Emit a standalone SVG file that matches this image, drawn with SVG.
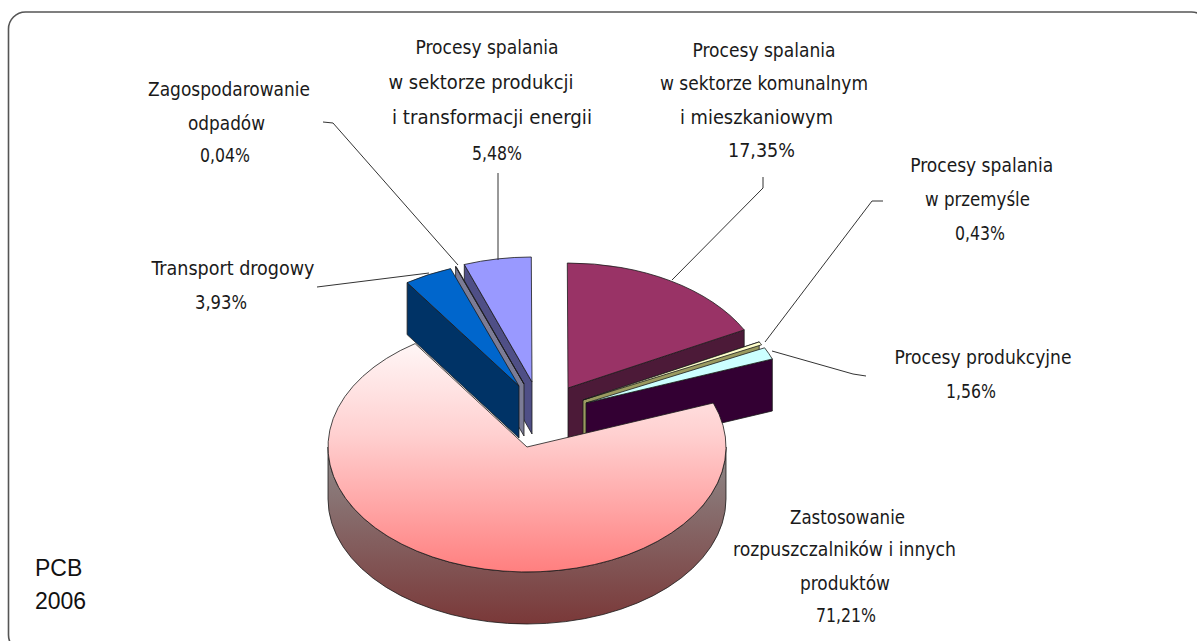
<svg xmlns="http://www.w3.org/2000/svg" width="1197" height="641" viewBox="0 0 1197 641">
<style>
.lbl{font-family:"DejaVu Sans Condensed","DejaVu Sans","Liberation Sans Narrow","Liberation Sans",sans-serif;font-stretch:condensed;font-size:19px;fill:#1a1a1a;text-anchor:middle}
.big{font-family:"Liberation Sans",Arial,sans-serif;font-size:23px;fill:#111}
.lead{fill:none;stroke:#333;stroke-width:1}
.edge{stroke:#1a1a1a;stroke-width:0.8;stroke-linejoin:round}
</style>
<defs>
<linearGradient id="pinkTop" gradientUnits="userSpaceOnUse" x1="0" y1="322" x2="0" y2="572">
<stop offset="0" stop-color="#ffffff"/>
<stop offset="0.45" stop-color="#ffd0d0"/>
<stop offset="1" stop-color="#ff7f7f"/>
</linearGradient>
<linearGradient id="pinkSide" gradientUnits="userSpaceOnUse" x1="0" y1="447" x2="0" y2="625">
<stop offset="0" stop-color="#8e8a8a"/>
<stop offset="1" stop-color="#7a3838"/>
</linearGradient>
</defs>
<rect x="0" y="0" width="1197" height="641" fill="#ffffff"/>
<rect id="frame" x="8.5" y="12" width="1200" height="640" rx="17" ry="17" fill="#ffffff" stroke="#555" stroke-width="1.6"/>

<g id="slice-komunalny">
<path class="edge" d="M568 388 L744.2 329.9 L744.2 381.9 L568 440 Z" fill="#4c1a38"/>
<path class="edge" d="M568 388 L567.3 263 A199 125 0 0 1 744.2 329.9 Z" fill="#993366"/>
</g>
<g id="slice-przemysl">
<path class="edge" d="M583 400 L759.2 341.9 L759.2 393.9 L583 452 Z" fill="#9a9a60"/>
<path class="edge" d="M583 400 L759.2 341.9 A199 125 0 0 1 761.6 344.8 Z" fill="#ffffcc"/>
</g>
<g id="slice-produkcyjne">
<path class="edge" d="M586 403 L772.3 359 L772.3 411 L586 455 Z" fill="#330033"/>
<path class="edge" d="M586 403 L764.6 347.8 A199 125 0 0 1 772.3 359 Z" fill="#ccffff"/>
</g>
<g id="slice-energia-wall">
<path class="edge" d="M532 382 L464.3 264.5 L464.3 316.5 L532 434 Z" fill="#4f4f86"/>
</g>
<g id="slice-odpady">
<path class="edge" d="M524 384 L455.6 266.6 L455.6 318.6 L524 436 Z" fill="#7c7c96"/>
<path class="edge" d="M524 384 L456.1 266.5 L455.6 266.6 Z" fill="#9999cc"/>
</g>
<g id="slice-transport">
<path class="edge" d="M519 386 L407.1 282.6 L407.1 334.6 L519 438 Z" fill="#003366"/>
<path class="edge" d="M519 386 L450.6 268.6 A199 125 0 0 0 407.1 282.6 Z" fill="#0066cc"/>
</g>
<g id="slice-energia">
<path class="edge" d="M532 382 L464.3 264.5 A199 125 0 0 1 531.3 257 Z" fill="#9999ff"/>
</g>
<g id="slice-rozpuszczalniki">
<path class="edge" d="M328 447 A199 125 0 0 0 726 447 L726 499 A199 125 0 0 1 328 499 Z" fill="url(#pinkSide)"/>
<path class="edge" d="M527 447 L713.3 403 A199 125 0 1 1 415.1 343.6 Z" fill="url(#pinkTop)"/>
</g>

<g id="connectors">
<polyline class="lead" points="323,122 333,123 458,265"/>
<polyline class="lead" points="317,287 429,273"/>
<polyline class="lead" points="498,173 498,260"/>
<polyline class="lead" points="763,177 763,188 672,280"/>
<polyline class="lead" points="883,201 872,201 765,342"/>
<polyline class="lead" points="866,376 853,374 772,351"/>
</g>

<g id="label-odpady">
<text class="lbl" x="229" y="96" textLength="162" lengthAdjust="spacingAndGlyphs">Zagospodarowanie</text>
<text class="lbl" x="226.5" y="130" textLength="77" lengthAdjust="spacingAndGlyphs">odpadów</text>
<text class="lbl" x="225" y="162" textLength="50" lengthAdjust="spacingAndGlyphs">0,04%</text>
</g>
<g id="label-transport">
<text class="lbl" x="233" y="275" textLength="163" lengthAdjust="spacingAndGlyphs">Transport drogowy</text>
<text class="lbl" x="221" y="308.5" textLength="52" lengthAdjust="spacingAndGlyphs">3,93%</text>
</g>
<g id="label-energia">
<text class="lbl" x="487" y="54" textLength="143" lengthAdjust="spacingAndGlyphs">Procesy spalania</text>
<text class="lbl" x="481" y="88.5" textLength="185" lengthAdjust="spacingAndGlyphs">w sektorze produkcji</text>
<text class="lbl" x="492" y="123.5" textLength="200" lengthAdjust="spacingAndGlyphs">i transformacji energii</text>
<text class="lbl" x="497" y="159.5" textLength="50" lengthAdjust="spacingAndGlyphs">5,48%</text>
</g>
<g id="label-komunalny">
<text class="lbl" x="764" y="56.5" textLength="143" lengthAdjust="spacingAndGlyphs">Procesy spalania</text>
<text class="lbl" x="764" y="90" textLength="208" lengthAdjust="spacingAndGlyphs">w sektorze komunalnym</text>
<text class="lbl" x="756.5" y="123.5" textLength="153" lengthAdjust="spacingAndGlyphs">i mieszkaniowym</text>
<text class="lbl" x="761.5" y="157" textLength="67" lengthAdjust="spacingAndGlyphs">17,35%</text>
</g>
<g id="label-przemysl">
<text class="lbl" x="981.7" y="172.3" textLength="143" lengthAdjust="spacingAndGlyphs">Procesy spalania</text>
<text class="lbl" x="977.5" y="205.5" textLength="105" lengthAdjust="spacingAndGlyphs">w przemyśle</text>
<text class="lbl" x="980" y="239.5" textLength="50" lengthAdjust="spacingAndGlyphs">0,43%</text>
</g>
<g id="label-produkcyjne">
<text class="lbl" x="983" y="364" textLength="177" lengthAdjust="spacingAndGlyphs">Procesy produkcyjne</text>
<text class="lbl" x="971" y="398" textLength="50" lengthAdjust="spacingAndGlyphs">1,56%</text>
</g>
<g id="label-rozpuszczalniki">
<text class="lbl" x="847.5" y="523.5" textLength="115" lengthAdjust="spacingAndGlyphs">Zastosowanie</text>
<text class="lbl" x="844.5" y="556" textLength="223" lengthAdjust="spacingAndGlyphs">rozpuszczalników i innych</text>
<text class="lbl" x="845" y="590" textLength="90" lengthAdjust="spacingAndGlyphs">produktów</text>
<text class="lbl" x="846" y="622" textLength="60" lengthAdjust="spacingAndGlyphs">71,21%</text>
</g>
<g id="title">
<text class="big" x="35" y="576">PCB</text>
<text class="big" x="35" y="609">2006</text>
</g>
</svg>
